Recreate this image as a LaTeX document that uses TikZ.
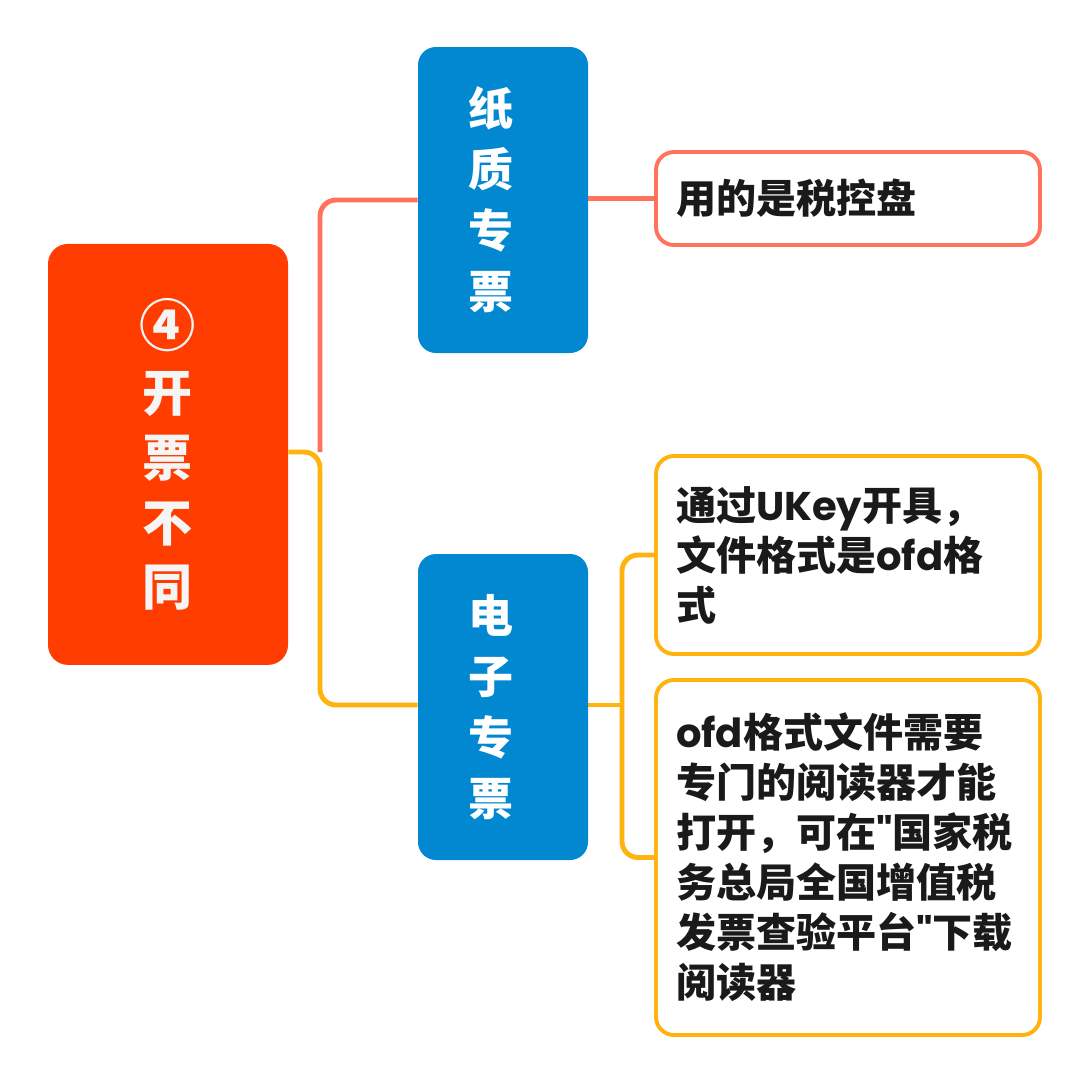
\documentclass[tikz,border=0pt]{standalone}
\usepackage{fontspec}
\setmainfont{Noto Sans CJK SC}
\newfontfamily\latinfont{Poppins}
\newcommand{\lat}[1]{{\latinfont #1}}
\usepackage{tikz}
\usetikzlibrary{positioning}
\definecolor{rootred}{HTML}{FF3D00}
\definecolor{topicblue}{HTML}{0288D1}
\definecolor{salmon}{HTML}{FF725C}
\definecolor{amber}{HTML}{FFB30F}
\definecolor{inkgray}{HTML}{1A1A1A}

\begin{document}
\begin{tikzpicture}[
      root/.style={rounded corners=0.5cm, fill=rootred, text=white!96!black, minimum width=6cm, minimum height=10.525cm, align=center, font=\fontsize{35.6}{46.2}\selectfont\bfseries},
      topic/.style={rounded corners=0.45cm, fill=topicblue, text=white, minimum width=4.25cm, minimum height=7.65cm, inner xsep=0pt, text width=1.75cm, align=left, font=\fontsize{32}{43.4}\selectfont\bfseries},
      leaf/.style={draw, line width=2.8pt, rounded corners=0.45cm, fill=white, text=inkgray, minimum width=9.6cm, text width=8.6cm, inner sep=0pt, align=left, font=\fontsize{28.5}{35.6}\selectfont\bfseries},
      link/.style={line width=3.5pt, rounded corners=0.4cm}
      ]
    \useasboundingbox[fill=white] (0,0) rectangle (27,-26.925);

    % Nodes
    \node[root] (root) at (4.2,-11.36) {{\fontsize{40}{46.2}\selectfont ④}\\开\\票\\不\\同};
    \node[topic] (paper) at (12.575,-5.0) {纸\\质\\专\\票};
    \node[topic] (elec) at (12.575,-17.675) {电\\子\\专\\票};
    \node[leaf, draw=salmon, minimum height=2.325cm] (pan) at (21.2,-4.9625) {用的是税控盘};
    \node[leaf, draw=amber, minimum height=4.95cm] (ukey) at (21.2,-13.875) {通过\lat{UKey}开具，\\文件格式是\lat{ofd}格\\式};
    \node[leaf, draw=amber, minimum height=8.875cm] (ofd) at (21.2,-21.4375) {\lat{ofd}格式文件需要\\专门的阅读器才能\\打开，可在\lat{"}国家税\\务总局全国增值税\\发票查验平台\lat{"}下载\\阅读器};

    \coordinate (rootj) at (8.0,-11.3);
    \coordinate (elecj) at (15.55,-17.625);

    % Arrows
    \draw[link, salmon] (rootj) |- (paper.west);
    \draw[link, amber] (root.east |- rootj) -- (rootj) |- (elec.west |- elecj);
    \draw[link, salmon] (paper.east |- pan.west) -- (pan.west);
    \draw[link, amber] (elec.east |- elecj) -- (elecj);
    \draw[link, amber] (elecj) |- (ukey.west);
    \draw[link, amber] (elecj) |- (ofd.west);

    \end{tikzpicture}
\end{document}
